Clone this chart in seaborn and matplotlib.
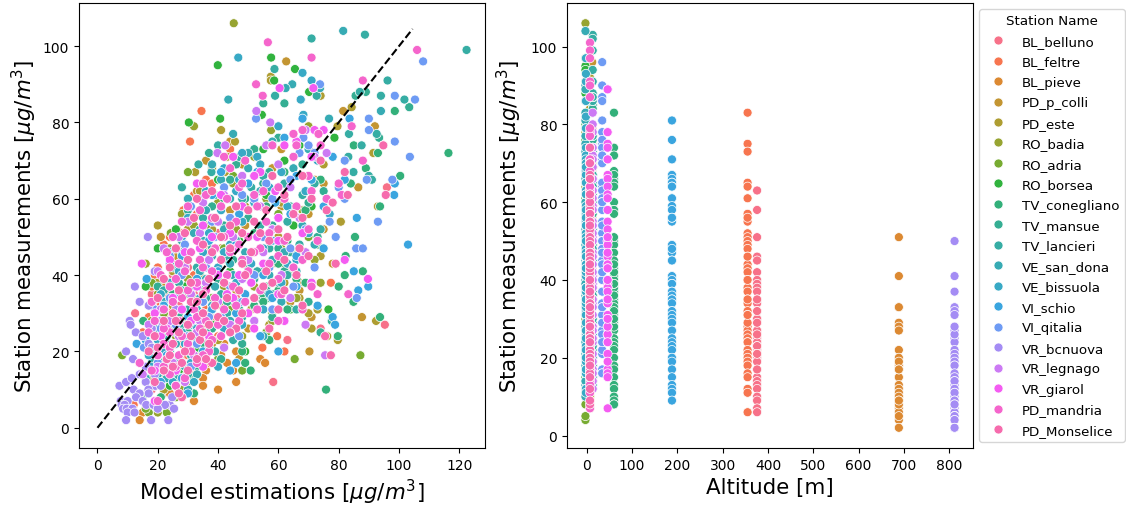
# -*- coding: utf-8 -*-
import pandas as pd
import seaborn as sns
import matplotlib
matplotlib.use("Agg")
import matplotlib.pyplot as plt

BL_belluno = [(96,63),(48,58),(40,51),(36,46),(44,45),(30,42),(25,40),(35,39),(22,38),(31,37),(18,35),(46,34),(27,32),(12.5,30),(38,29),(95.3,27),(33,26),(74,25),(63,23),(26,22),(42,21),(30,20),(22,19),(35,17),(28,15),(20,14),(24,13),(58.3,12),(18,10),(22,9),(15,7),(12,6),(21,24),(34,24),(20,32),(24,30),(40,27),(28,23),(37,23),(16,21),(29,19),(18,17),(74,26),(32,35),(27,29),(44,32),(36,21)]
BL_feltre = [(34.5,83),(30.7,75),(44,73),(32,61),(36,65),(38,64),(28.5,57),(30,55),(33,56),(26.3,52),(28,51),(24,50),(33,49),(22,48),(37,46),(25,44),(29,43),(20,42),(32,40),(23,38),(77.4,38),(18,37),(27,35),(40,34),(21,32),(25,31),(17,29),(30,28),(20,27),(35,26),(15,25),(40,24),(59.6,24),(28,22),(54.7,21),(62,20),(30,19),(26,18),(22,16),(31,15),(19,12),(24,11),(12,6),(23,35),(19,40),(26,46),(24,29),(36,31)]
BL_pieve = [(33,51),(26,41),(44,33),(18,33),(47,29),(38,28),(27,27),(42,22),(46,20),(54,18),(55.6,17),(41,19),(45,15),(36,15),(46,12),(35,13),(29,12),(40,10),(35,11),(27,10),(32,7),(24,9),(15,4),(14,2),(20,6),(28,8),(31,9),(37,17),(43,17),(25,5)]
PD_p_colli = [(62.6,96),(81.5,83),(92,79),(65,77),(44,75),(61,73),(36,70),(48,69),(58,68),(72,65),(75,64),(86.5,63),(33,62),(52,59),(61,58),(44,57),(70,56),(38,54),(49,53),(75,52),(21,50),(55,47),(28,48),(41,47),(66,46),(26,45),(78,43),(36,43),(52,40),(67,38),(22,38),(46,36),(31,36),(64,33),(87.7,29),(70.3,20),(50,26),(19,28),(44,27),(38,22),(47,18),(29,15),(24,14),(71,29),(67,36),(56,50),(53,58)]
PD_este = [(57.5,92),(57.5,91),(74,87),(84.3,84),(79.6,79),(41,78),(45.6,75),(66,74),(91.5,72),(43,71),(54,69),(75,69),(42.3,67),(32.4,67),(34,62),(61,59),(49,58),(93,58),(80.7,54),(38,52),(20,53),(30,52),(60,50),(27,47),(69,46),(36,48),(49,45),(58,43),(74,45),(25,41),(44,40),(20,38),(62,38),(32,34),(67,34),(73,31),(71,26),(92.4,28),(76.2,24),(79.7,23),(22,10),(30,9),(8,7),(19,17),(35,20),(57,27),(25,32),(41,32),(51,31),(40,23),(70,30)]
RO_badia = [(45.2,106),(32,79),(57.6,78),(70,79),(38,68),(45,64),(52,71),(28,56),(32,53),(56,60),(68,57),(40,59),(46,52),(24,47),(61,47),(36,43),(72,44),(30,39),(52,37),(42,37),(20,35),(18,28),(66,34),(26,24),(36,26),(48,24),(22,21),(30,16),(18,13),(24,12),(28,10),(20,4),(33,19),(58,28),(74,38),(16,43)]
RO_adria = [(30,67),(45,66),(24.3,51),(36,53),(52,60),(60,56),(28,43),(42,47),(70,50),(18,38),(34,40),(50,42),(64,41),(87.2,19),(65.4,18),(8.2,19),(22,30),(34,29),(44,31),(58,30),(30,23),(40,18),(21,14),(48,15),(17,4),(23,4),(16,5),(30,12),(26,8),(56,25),(19,24),(38,34)]
RO_borsea = [(39.9,95),(57.6,97),(65.5,94),(58.6,91),(70.2,88),(30.3,80),(40.7,81),(54.5,82),(78.6,76),(55,73),(67,74),(49,71),(62,70),(40,65),(30,60),(56,61),(71,58),(26,52),(34,57),(65,53),(47,49),(20,47),(73,48),(35,42),(62,43),(16,37),(52,39),(29,37),(44,41),(30,35),(64,31),(76.6,31),(38,27),(21,26),(49,20),(27,15),(24,11),(33,21),(45,33)]
TV_conegliano = [(116.4,72),(100.4,66),(98.6,83),(85,74),(93,72),(89,68),(62,67),(74,65),(84,64),(42,60),(93.7,58),(56,58),(69,57),(85.4,50),(63,49),(52,51),(39,47),(82.3,45),(60,43),(88,41),(82,40),(33,38),(80,37),(56,37),(25,35),(84.9,33),(46,33),(63,31),(37,30),(93.7,29),(52,28),(15.2,28),(44,27),(30,25),(79.7,24),(57,23),(35,22),(48,20),(26,18),(49,17),(50.8,15),(32,13),(25,12),(75.8,10),(32,9),(21,8),(15,8),(43,28),(69,38),(54,34),(55,35),(57,34),(55,33),(52,32),(60,36),(50,42),(48,39),(66,39),(41,44),(35,30)]
TV_mansue = [(55,85),(62,85),(103.4,84),(85.6,87),(89,88),(60,76),(93.4,76),(52,73),(37,72),(68,69),(46,69),(75,62),(55,64),(30,57),(43,60),(64,58),(50,55),(58,53),(37,49),(73,50),(28,46),(45,44),(62,41),(52,39),(20,37),(35,36),(56,36),(43,33),(70,33),(27,30),(58,29),(77.7,28),(38,26),(74,25),(48,22),(30,21),(22,18),(33,16),(26,14),(21,12),(18,15),(41,18),(64,46),(42,53),(49,60),(34,44),(40,39),(31,33),(47,31),(26,25),(36,29),(23,22),(55,41),(60,47),(70,59),(57,67),(44,65),(38,58),(28,36)]
TV_lancieri = [(88.7,103),(71,102),(122.4,99),(96.2,91),(58.7,94),(67.4,86),(87,88),(101.8,86),(94,87),(72.7,87),(58.9,87),(83.4,77),(92.6,77),(87.6,74),(83.2,71),(40,74),(37.8,67),(33.5,69),(28,63),(84.9,67),(90,66),(91,65),(47,71),(55,66),(62,64),(72,64),(30,58),(39,61),(48,60),(59,59),(68,61),(35,55),(44,55),(54,53),(63,54),(74,52),(28,49),(38,47),(46,49),(57,47),(67,48),(25,42),(33,42),(53,41),(63,40),(22,36),(41,35),(58,35),(66,31),(30,31),(48,29),(19,26),(36,25),(45,23),(24,20),(31,19),(18,17),(27,13),(19,15),(42,63),(51,63),(34,52),(43,44),(50,45),(60,38),(27,38),(36,34),(43,30),(28,27),(23,24),(33,23),(39,20),(21,15),(24,16),(30,14)]
VE_san_dona = [(81.5,104),(73.8,89),(64.6,90),(62.4,89),(43.4,86),(94,83),(76.8,81),(60,79),(58,75),(45,77),(50,72),(70,73),(38,69),(52,66),(65,68),(41,65),(30,60),(54,62),(76,60),(36,57),(46,58),(60,55),(68,53),(32,51),(42,52),(53,50),(26,47),(38,45),(49,46),(62,46),(72,48),(24,43),(34,41),(45,40),(57,40),(66,41),(28,36),(39,37),(52,34),(22,33),(61,33),(33,31),(44,28),(25,26),(55,24),(19,25),(37,21),(20,19),(29,16),(16,13),(23,13),(33,14),(30,10),(44,60),(50,68),(35,49),(44,43),(51,38),(58,44),(36,39),(31,27),(41,24),(26,22),(24,17),(18,20),(20,14),(27,18)]
VE_bissuola = [(46.7,97),(71,91),(68,93),(67.4,86),(68.3,82),(60,79),(58,74),(48,72),(53,71),(42,68),(61,67),(73,70),(36,62),(47,65),(57,63),(69,62),(30,55),(41,57),(52,59),(63,58),(77,56),(28,50),(37,51),(48,54),(58,52),(70,51),(24,46),(35,46),(44,48),(55,47),(66,44),(27,41),(40,42),(51,43),(61,38),(32,37),(46,38),(21,35),(38,32),(55,31),(25,29),(42,26),(33,26),(49,33),(20,23),(29,22),(36,19),(23,17),(17,19),(25,12),(32,12),(40,16),(54,69),(46,62),(39,54),(50,50),(42,46),(30,44),(24,38),(34,34),(48,27),(57,35),(63,43),(28,25),(22,20),(18,16),(31,17),(26,11)]
VI_schio = [(68,81),(83.6,81),(62,76),(65,71),(78,71),(41,67),(53,67),(66,66),(71,65),(82,65),(50,64),(98.6,64),(38,61),(98.4,61),(59,59),(75,58),(86,55),(64,56),(47,56),(103,48),(37,49),(58,49),(75,47),(46,48),(28,45),(66,45),(85,41),(40,41),(55,40),(16.3,39),(33,39),(66,37),(89.8,37),(86.5,36),(27,35),(49,35),(78,29),(58,34),(22,32),(73,32),(38,31),(78.8,27),(46,30),(30,29),(23,27),(60,20),(44,25),(54,24),(16,23),(13,22),(35,20),(23,19),(46,17),(44,15),(28,13),(21,12),(19,11),(30,9)]
VI_qitalia = [(108,96),(73.8,90),(52.6,81),(98.6,87),(105.3,86),(90,81),(90,78),(98.6,75),(68.3,76),(103.6,71),(70,74),(72,72),(82,70),(67,72),(89.3,65),(97.8,65),(56,64),(64,65),(42,63),(80,63),(35,60),(48,61),(58,60),(82,60),(93,54),(31,58),(44,55),(77,54),(69,52),(85.8,47),(88,47),(39,50),(55,50),(79,50),(29,48),(64,47),(24,45),(49,44),(72,42),(86,34),(36,42),(28,40),(52,40),(65,37),(44,37),(24,34),(35,33),(58,31),(19,31),(41,29),(26,27),(47,24),(15.4,21),(21,26),(33,22),(20,17),(31,16),(25,16),(52,60),(38,54),(44,47),(34,44),(57,42),(48,33),(37,29),(30,24)]
VR_bcnuova = [(16.7,50),(19,41),(12.4,37),(14,33),(17,32),(10.7,28),(11,27),(12.7,25),(15,24),(18,26),(17,22),(18,21),(9.5,20),(20,19),(11.8,18),(24,18),(16,16),(22,15),(14,14),(7.3,11),(9.5,12),(11.4,13),(19,14),(16,12),(19.2,11),(16.9,10),(12,10),(21,11),(14,9),(17,9),(12.8,8),(7.7,7),(10,7),(15,7),(19,7),(8,6),(9,6),(16.2,6),(18.6,6),(24,6),(22.4,6),(8.5,5),(9.7,5),(11.6,5),(20,5),(25.4,5),(10,4),(12.3,4),(9.5,2),(17.8,2),(23.5,2),(24.8,8),(21,28),(26,31)]
VR_legnago = [(52.7,83),(57.3,80),(69,78),(76,72),(42.4,74),(56,74),(39.8,72),(60,69),(72,71),(35,59),(70,66),(48,66),(30,54),(64,63),(54,58),(42,61),(34,51),(67,55),(27,50),(45,50),(69,46),(22,47),(37,44),(55,46),(20,41),(29,42),(48,39),(64,34),(31,35),(69,27),(40,33),(21,31),(52,28),(75.5,19),(34,28),(17,27),(27,24),(42,21),(25,17),(32,19),(15,14),(20,16),(29,12),(65,42),(58,52),(50,44),(40,54),(36,38),(24,28),(44,27),(33,25),(61,40)]
VR_giarol = [(60.4,89),(71.6,89),(72,78),(75,78),(66,75),(62,74),(71,71),(45,71),(54,67),(52,66),(33,64),(59,62),(41,61),(48,58),(60,55),(35,53),(53,50),(68,51),(38,50),(46,47),(29,46),(60,49),(89.7,39),(82,44),(24,44),(14.7,43),(40,40),(51,38),(71,38),(33,37),(60,35),(25,34),(45,34),(62,28),(28,31),(19,30),(52,26),(37,24),(23,26),(30,21),(14,17),(19,15),(24,19),(35,16),(19,7),(26,15),(44,51),(55,43),(34,47),(43,35),(31,28),(50,30),(21,24),(47,40)]
PD_mandria = [(56.5,101),(106,99),(71,97),(88,91),(52.6,90),(54.8,87),(68,78),(73.3,77),(65,77),(84.3,79),(58,74),(94.8,74),(74,74),(66,74),(42,71),(65,71),(49,70),(88,70),(44,68),(70,66),(80,64),(35,64),(47,63),(60,63),(71,62),(36,61),(52,61),(62,60),(76,60),(30,58),(41,58),(53,58),(66,58),(81,61),(28,54),(38,55),(46,54),(56,54),(70,52),(25,50),(33,49),(42,50),(50,50),(62,49),(73,49),(23,46),(31,46),(39,47),(44,46),(54,47),(60,45),(68,44),(27,43),(34,44),(48,44),(57,43),(65,42),(83.2,35),(21,40),(29,41),(38,41),(50,41),(60,39),(71,37),(24,37),(33,38),(45,37),(54,36),(18,33),(28,34),(39,34),(49,33),(61,35),(73,35),(22,31),(32,31),(42,31),(53,31),(68,31),(19,28),(27,28),(36,28),(47,28),(60,28),(24,25),(34,26),(41,24),(17,25),(30,22),(22,22),(37,20),(27,19),(33,17),(14,17),(22,16),(24,14),(18,15),(29,13),(26,11),(20,7),(48,64),(43,60),(55,62),(34,57),(57,51),(47,48),(35,42),(52,46),(26,39),(43,40),(30,36),(36,36),(25,33),(46,32),(33,29),(40,27),(22,26),(28,24),(38,23),(31,20),(24,21),(20,19),(26,16),(35,19)]
PD_Monselice = [(94.8,74),(82,67),(95.6,61),(74,70),(68,66),(62,61),(71,60),(56,57),(78,59),(83,61),(46,58),(65,56),(76,57),(33,60),(38,62),(50,57),(39,55),(60,52),(44,53),(32,55),(54,51),(68,55),(29,51),(41,50),(48,51),(63,50),(35,48),(57,49),(26,47),(44,47),(51,46),(67,47),(38,46),(62,44),(70,45),(30,44),(48,43),(56,41),(24,42),(37,39),(42,38),(66,40),(79,43),(22,39),(31,38),(47,36),(58,38),(27,36),(35,35),(52,34),(62,36),(20,34),(43,34),(31,33),(68,32),(25,30),(35,30),(48,30),(40,29),(60,31),(22,28),(30,27),(37,27),(46,26),(57,26),(19,24),(27,25),(34,23),(44,25),(25,22),(37,22),(20,21),(29,20),(77.4,19),(33,18),(23,18),(17,20),(28,17),(38,17),(22,15),(25,16),(30,15),(19,12),(28,8),(27,9),(75.5,24),(58,66),(52,54),(41,44),(49,40),(55,37),(39,32),(33,33),(26,28),(42,28),(35,25),(31,24),(24,19),(36,18)]

station_names = ["BL_belluno", "BL_feltre", "BL_pieve", "PD_p_colli", "PD_este", "RO_badia", "RO_adria",
                 "RO_borsea", "TV_conegliano", "TV_mansue", "TV_lancieri", "VE_san_dona", "VE_bissuola",
                 "VI_schio", "VI_qitalia", "VR_bcnuova", "VR_legnago", "VR_giarol", "PD_mandria", "PD_Monselice"]
station_points = [BL_belluno, BL_feltre, BL_pieve, PD_p_colli, PD_este, RO_badia, RO_adria,
                  RO_borsea, TV_conegliano, TV_mansue, TV_lancieri, VE_san_dona, VE_bissuola,
                  VI_schio, VI_qitalia, VR_bcnuova, VR_legnago, VR_giarol, PD_mandria, PD_Monselice]
altitudes = [376, 355, 689, 12, 7, -3, -3, -3, 60, 13, 13, -3, -2, 188, 34, 812, 13, 46, 7, 7]
identity_line = [0, 104.5]

rows = []
for name, alt, points in zip(station_names, altitudes, station_points):
    for model, meas in points:
        rows.append({"Station Name": name, "Altitude": alt, "Model": model, "Measured": meas})
df = pd.DataFrame(rows)

ylab = r"Station measurements [$\mu g/m^3$]"

fig = plt.figure(figsize=(11.26, 5.10), dpi=100)
ax1 = fig.add_axes([79/1126, 1-449/510, 406/1126, 445/510])
ax2 = fig.add_axes([567/1126, 1-449/510, 406/1126, 445/510])

sns.scatterplot(data=df, x="Model", y="Measured", hue="Station Name", hue_order=station_names,
                s=42, legend=False, ax=ax1)
ax1.plot(identity_line, identity_line, "k--")
ax1.set_xlabel(r"Model estimations [$\mu g/m^3$]", fontsize=15.4)
ax1.set_ylabel(ylab, fontsize=15.4, labelpad=3)

sns.scatterplot(data=df, x="Altitude", y="Measured", hue="Station Name", hue_order=station_names,
                s=42, ax=ax2)
ax2.set_xlabel("Altitude [m]", fontsize=15.4)
ax2.set_ylabel(ylab, fontsize=15.4, labelpad=5)
ax2.legend(title="Station Name", loc="upper left", bbox_to_anchor=(1.0, 1.0), fontsize=9.6,
           title_fontsize=9.6, borderaxespad=0.45, labelspacing=0.56)

fig.savefig("out.png", dpi=100)
